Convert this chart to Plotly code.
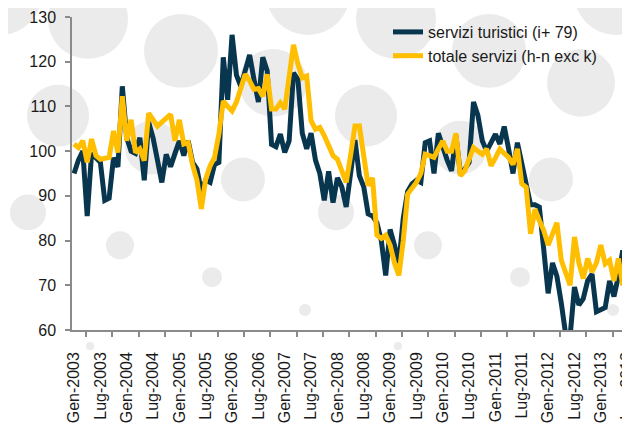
import plotly.graph_objects as go

# ---------------- data (monthly, Gen-2003 onward) ----------------
servizi_turistici = [
    95, 98, 100, 85.5, 99.5, 98.5, 97.5, 89, 89.5, 98.5,
    96.5, 114.5, 103, 100, 99.5, 103, 93.5, 106.5, 103, 98,
    93, 99.3, 96.5, 99.5, 102.3, 99, 102.3, 97.5, 96, 91,
    93.5, 93, 97, 97.5, 121, 111.5, 126, 117, 114.5, 118,
    121.5, 116, 111, 121, 118, 101.5, 101, 103.8, 99.7, 102.3,
    117.5, 116, 104, 100.5, 104, 98, 95, 89, 95.5, 88.5,
    94, 92, 87.5, 95, 102.5, 94.5, 92, 86, 85.5, 84,
    80, 72.2, 82.5, 79, 75, 85, 91, 92.7, 93.5, 93,
    101.9, 102.3, 95, 104, 100.8, 98, 95.6, 103.5, 95, 96,
    97.5, 111, 108, 102.3, 100, 102, 103.8, 101.6, 105.5, 100.5,
    95, 101.9, 97, 93, 88, 88, 87.5, 78, 68.2, 75,
    72, 66, 59, 58.5, 69.6, 65.6, 67, 71, 72.5, 64.1,
    64.5, 65, 71, 67.5, 72, 77.8, 63, 62,
]

totale_servizi = [
    101.6, 100.8, 102.3, 97.5, 102.7, 99, 98.2, 98.3, 98.6, 104.5,
    99.7, 112.3, 102.3, 107, 99.7, 100.5, 97.9, 108.5, 107, 105.6,
    106.5, 107.3, 108.2, 102.3, 107, 101.6, 101.9, 97, 93.5, 87.1,
    93.8, 96.7, 98.6, 103.8, 111.2, 110, 109, 111, 114.5, 117.2,
    115.7, 113.8, 114, 112.3, 117.2, 109.4, 109.4, 110.8, 109.4, 117,
    123.8, 119.5, 116.4, 116.8, 106.8, 104.9, 105.3, 103.5, 101, 99,
    98.2, 95.5, 93, 99, 105.6, 105.6, 98, 92.3, 94, 81.2,
    80.5, 81.2, 79, 75, 72.2, 80, 90.4, 91.5, 93, 95,
    99.3, 99, 98.6, 100.5, 102.3, 100, 100, 104, 94.5, 95.6,
    98, 100.8, 100, 99.3, 100.5, 96.7, 98.5, 100.5, 99.5, 98.6,
    97, 100.5, 92.7, 91.9, 81.5, 87, 84.5, 82.3, 79, 81.5,
    84, 75.6, 72.5, 70, 80.8, 75, 71.5, 76, 73, 75,
    79, 74.8, 75.6, 71, 76, 70, 77.8, 76,
]

tick_labels = [
    "Gen-2003", "Lug-2003", "Gen-2004", "Lug-2004", "Gen-2005", "Lug-2005",
    "Gen-2006", "Lug-2006", "Gen-2007", "Lug-2007", "Gen-2008", "Lug-2008",
    "Gen-2009", "Lug-2009", "Gen-2010", "Lug-2010", "Gen-2011", "Lug-2011",
    "Gen-2012", "Lug-2012", "Gen-2013", "Lug-2013",
]
series_names = ["servizi turistici (i+ 79)", "totale servizi (h-n exc k)"]

# ---------------- style ----------------
DARK = "#08364f"
GOLD = "#ffbe00"
AXIS = "#8a8a8a"
TEXT = "#1a1a1a"
FONT = "Liberation Sans"
W, H = 630, 425
OFF = 8                      # page body offset of the figure in the window
ML, MR, MT, MB = 64, 8, 8, 103
PW, PH = W - ML - MR, H - MT - MB

months = list(range(len(servizi_turistici)))
tickvals = [6 * i for i in range(len(tick_labels))]

fig = go.Figure()
fig.add_trace(go.Scatter(x=months, y=servizi_turistici, mode="lines",
                         name=series_names[0],
                         line=dict(color=DARK, width=5)))
fig.add_trace(go.Scatter(x=months, y=totale_servizi, mode="lines",
                         name=series_names[1],
                         line=dict(color=GOLD, width=5)))

# decorative background circles (window-pixel pattern repeating horizontally)
circle_pattern = [
    (0, -8, 42), (88, 18, 40), (181, 50, 37), (273, 82, 34),
    (58, 115, 31), (152, 147, 27), (243, 179, 22), (28, 212, 18),
    (120, 245, 14), (212, 277, 10), (305, 310, 6), (90, 346, 4),
]
shapes = []
for off in (-308, 0, 308, 616):
    for cx, cy, r in circle_pattern:
        x = cx + off - OFF
        y = cy - OFF
        if x + r < -OFF or x - r > W:
            continue
        shapes.append(dict(
            type="circle", xref="paper", yref="paper", layer="below",
            x0=(x - r - ML) / PW, x1=(x + r - ML) / PW,
            y0=(H - MB - (y + r)) / PH, y1=(H - MB - (y - r)) / PH,
            fillcolor="#ebebeb", line=dict(width=0),
        ))

fig.update_layout(
    width=W, height=H,
    margin=dict(l=ML, r=MR, t=MT, b=MB, pad=0),
    template="none",
    paper_bgcolor="white",
    plot_bgcolor="rgba(0,0,0,0)",
    font=dict(family=FONT, size=16, color=TEXT),
    shapes=shapes,
    showlegend=True,
    legend=dict(x=(388 - OFF - ML) / PW, y=(H - MB - (15 - OFF)) / PH,
                xanchor="left", yanchor="top",
                bgcolor="rgba(0,0,0,0)", borderwidth=0,
                font=dict(family=FONT, size=16, color=TEXT),
                tracegroupgap=0),
    xaxis=dict(
        range=[-0.46, 126.65],
        tickmode="array", tickvals=tickvals, ticktext=tick_labels,
        tickangle=-90, ticks="", showgrid=False, zeroline=False,
        showline=True, linecolor=AXIS, linewidth=1.5,
        tickfont=dict(family=FONT, size=16, color=TEXT),
        ticklabelstandoff=14,
        minor=dict(tickmode="array", tickvals=[v + 2.7 for v in tickvals],
                   ticks="outside", ticklen=5, tickwidth=1.5, tickcolor=AXIS),
        automargin=False,
    ),
    yaxis=dict(
        range=[60, 130], tickmode="array", tickvals=list(range(60, 131, 10)),
        ticks="outside", ticklen=5, tickwidth=1.5, tickcolor=AXIS,
        showgrid=False, zeroline=False,
        showline=True, linecolor=AXIS, linewidth=1.5,
        tickfont=dict(family=FONT, size=16, color=TEXT),
        ticklabelstandoff=6,
        automargin=False,
    ),
)

fig.write_html("out.html")
